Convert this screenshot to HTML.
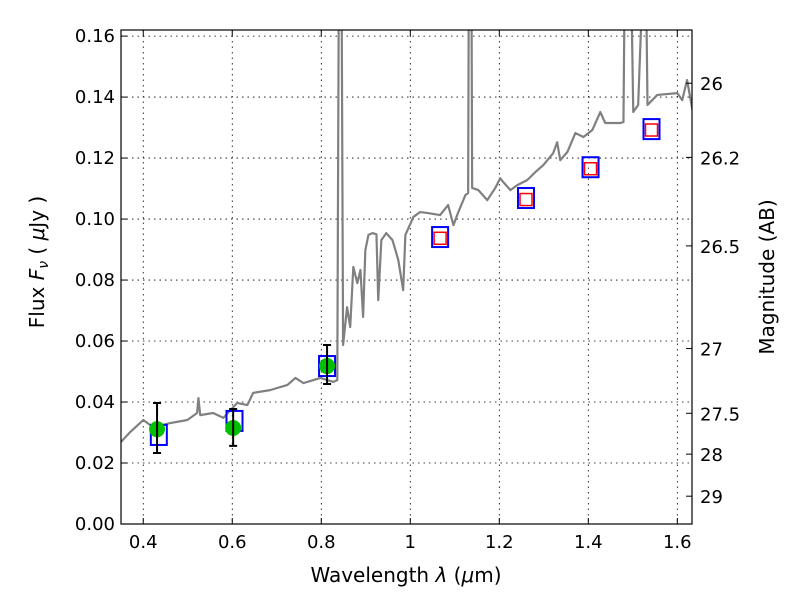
<!DOCTYPE html>
<html><head><meta charset="utf-8"><style>
body{margin:0;background:#fff}
svg{display:block;font-family:"DejaVu Sans","Liberation Sans",sans-serif}
</style></head><body>
<svg id="chart" width="800" height="600" viewBox="0 0 800 600" xmlns="http://www.w3.org/2000/svg">
<defs><clipPath id="clip"><rect x="121" y="30" width="571" height="494"/></clipPath></defs>
<rect width="800" height="600" fill="#fff"/>
<g id="grid"></g>
<g id="spec" clip-path="url(#clip)"></g>
<g id="marks"></g>
<rect x="121" y="30" width="571" height="494" fill="none" stroke="#000" stroke-width="1.2"/>
<g id="axes"></g>
<text x="406" y="582" font-size="20" text-anchor="middle">Wavelength  <tspan font-style="italic">λ</tspan> (<tspan font-style="italic">μ</tspan>m)</text>
<text transform="translate(44,262) rotate(-90)" font-size="20" text-anchor="middle">Flux  <tspan font-style="italic">F</tspan><tspan font-style="italic" font-size="14" dy="4">ν</tspan><tspan dy="-4">  (  </tspan><tspan font-style="italic">μ</tspan>Jy )</text>
<text transform="translate(774,277) rotate(-90)" font-size="20" text-anchor="middle">Magnitude (AB)</text>
</svg>
<script>
const xTicks=[0.4,0.6,0.8,1.0,1.2,1.4,1.6];
const xTickLabels=["0.4","0.6","0.8","1","1.2","1.4","1.6"];
const yTicks=[0,0.02,0.04,0.06,0.08,0.10,0.12,0.14,0.16];
const yTickLabels=["0.00","0.02","0.04","0.06","0.08","0.10","0.12","0.14","0.16"];
const magTicks=[26,26.2,26.5,27,27.5,28,29];
const magTickLabels=["26","26.2","26.5","27","27.5","28","29"];
const specWave=[0.348,0.371,0.400,0.422,0.461,0.499,0.521,0.524,0.528,0.557,0.580,0.611,0.634,0.647,0.685,0.724,0.742,0.760,0.798,0.827,0.836,0.840,0.845,0.849,0.858,0.865,0.872,0.881,0.888,0.894,0.899,0.906,0.915,0.924,0.928,0.935,0.946,0.960,0.973,0.984,0.989,1.007,1.022,1.038,1.067,1.085,1.097,1.108,1.124,1.130,1.132,1.137,1.139,1.153,1.173,1.191,1.202,1.209,1.225,1.240,1.263,1.281,1.299,1.321,1.330,1.337,1.353,1.371,1.389,1.409,1.427,1.438,1.472,1.479,1.483,1.494,1.501,1.512,1.528,1.533,1.555,1.600,1.611,1.622,1.634];
const specFlux=[0.0266,0.0302,0.0341,0.0318,0.0331,0.0341,0.0364,0.0413,0.0357,0.0364,0.0348,0.0397,0.0390,0.0430,0.0439,0.0456,0.0479,0.0462,0.0479,0.0466,0.0472,0.20,0.20,0.0587,0.0711,0.0646,0.0843,0.0790,0.0833,0.0679,0.0898,0.0948,0.0954,0.0950,0.0734,0.0931,0.0954,0.0931,0.0866,0.0767,0.0948,0.1007,0.1023,0.1020,0.1013,0.1046,0.0980,0.1023,0.1079,0.1085,0.20,0.20,0.1102,0.1095,0.1062,0.1102,0.1134,0.1121,0.1095,0.1111,0.1128,0.1154,0.1177,0.1216,0.1252,0.1193,0.1220,0.1282,0.1269,0.1292,0.1351,0.1315,0.1315,0.1318,0.20,0.20,0.1351,0.1374,0.20,0.1374,0.1407,0.1413,0.1390,0.1456,0.1357];
const obsWave=[0.431,0.602,0.813];
const obsFlux=[0.0311,0.0315,0.0518];
const obsErrLo=[0.0233,0.0256,0.0459];
const obsErrHi=[0.0397,0.0377,0.0587];
const modelWave=[0.435,0.605,0.813,1.067,1.260,1.405,1.542];
const modelFlux=[0.0292,0.0338,0.0518,0.0941,0.1069,0.1170,0.1295];
const synthWave=[1.067,1.260,1.405,1.542];
const synthFlux=[0.0937,0.1064,0.1165,0.1292];

const X0=121,X1=692,Y0=524,Y1=30,xmin=0.35,xmax=1.633,ymin=0,ymax=0.162;
const sx=v=>X0+(v-xmin)/(xmax-xmin)*(X1-X0);
const sy=v=>Y0-(v-ymin)/(ymax-ymin)*(Y0-Y1);
const magToFlux=m=>Math.pow(10,-0.4*(m-23.9));
const NS="http://www.w3.org/2000/svg";
function mk(tag,attrs,parent){const e=document.createElementNS(NS,tag);for(const k in attrs)e.setAttribute(k,attrs[k]);parent.appendChild(e);return e;}
const grid=document.getElementById('grid'),axes=document.getElementById('axes'),spec=document.getElementById('spec'),marks=document.getElementById('marks');
xTicks.forEach((t,i)=>{const x=sx(t);
 const g=mk('line',{x1:x,x2:x,y1:Y1,y2:Y0,stroke:'#000','stroke-width':0.8,'stroke-dasharray':'1.5,4'},grid);
 
 
 mk('line',{x1:x,x2:x,y1:Y0,y2:Y0-6,stroke:'#000'},axes);
 mk('line',{x1:x,x2:x,y1:Y1,y2:Y1+6,stroke:'#000'},axes);
 const tx=mk('text',{x:x,y:Y0+24,'font-size':18,'text-anchor':'middle'},axes);tx.textContent=xTickLabels[i];
 
 
});
yTicks.forEach((t,i)=>{const y=sy(t);
 const g=mk('line',{x1:X0,x2:X1,y1:y,y2:y,stroke:'#000','stroke-width':0.8,'stroke-dasharray':'1.5,4'},grid);
 
 
 mk('line',{x1:X0,x2:X0+6,y1:y,y2:y,stroke:'#000'},axes);
 const tx=mk('text',{x:X0-6,y:y+6,'font-size':18,'text-anchor':'end'},axes);tx.textContent=yTickLabels[i];
 
 
});
magTicks.forEach((m,i)=>{const y=sy(magToFlux(m));
 mk('line',{x1:X1,x2:X1-6,y1:y,y2:y,stroke:'#000'},axes);
 const tx=mk('text',{x:X1+8,y:y+7,'font-size':18},axes);tx.textContent=magTickLabels[i];
 
 
});
const pl=mk('polyline',{points:specWave.map((w,i)=>sx(w)+','+sy(specFlux[i])).join(' '),fill:'none',stroke:'#808080','stroke-width':2.2,'stroke-linejoin':'round'},spec);


modelWave.forEach((w,i)=>{const x=sx(w),y=sy(modelFlux[i]);
 const r=mk('rect',{x:x-8,y:y-10,width:16,height:20,fill:'none',stroke:'#0000ff','stroke-width':2},marks);
 
 
});
synthWave.forEach((w,i)=>{const x=sx(w),y=sy(synthFlux[i]);
 const r=mk('rect',{x:x-6,y:y-6,width:12,height:12,fill:'none',stroke:'#ff0000','stroke-width':1.5},marks);
 
 
});
obsWave.forEach((w,i)=>{const x=sx(w),y=sy(obsFlux[i]);
 const c=mk('circle',{cx:x,cy:y,r:8,fill:'#00c000'},marks);
 
 
 const yl=sy(obsErrLo[i]),yh=sy(obsErrHi[i]);
 const e=mk('path',{d:`M${x},${yl}V${yh}M${x-4},${yl}H${x+4}M${x-4},${yh}H${x+4}`,stroke:'#000','stroke-width':2,fill:'none'},marks);
 
 
});
</script>
</body></html>
